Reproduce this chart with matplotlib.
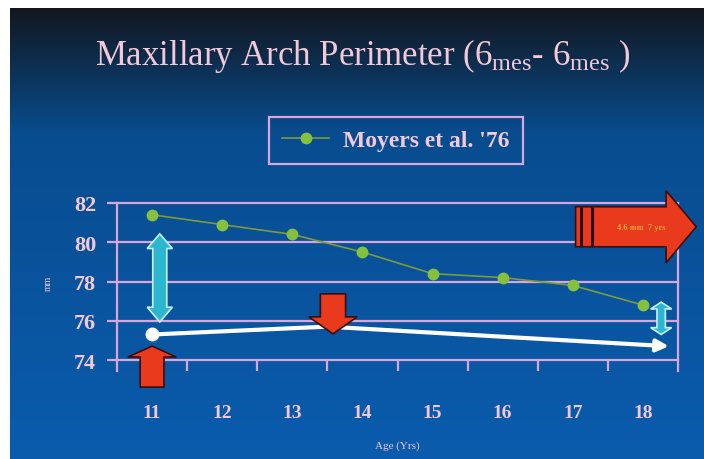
import numpy as np
import matplotlib
matplotlib.use("Agg")
import matplotlib.pyplot as plt
from matplotlib.patches import FancyArrow, Polygon
from matplotlib.lines import Line2D

plt.rcParams["font.family"] = ["Liberation Serif", "DejaVu Serif"]
plt.rcParams["mathtext.fontset"] = "custom"
plt.rcParams["mathtext.rm"] = "Liberation Serif"
plt.rcParams["mathtext.it"] = "Liberation Serif:italic"
plt.rcParams["mathtext.bf"] = "Liberation Serif:bold"

# ---- data -------------------------------------------------------------
ages = [11, 12, 13, 14, 15, 16, 17, 18]
moyers_76 = [81.4, 80.9, 80.4, 79.5, 78.4, 78.2, 77.8, 76.8]
y_ticks = [74, 76, 78, 80, 82]

# observed trend drawn as a white arrow
trend_x = [11, 13.5, 18.37]
trend_y = [75.3, 75.7, 74.7]

TXT = "#f3c9da"
GRID = "#d6a6dc"

fig = plt.figure(figsize=(7.04, 4.60), dpi=100)
fig.patch.set_facecolor("white")
W, H = 704, 460

# ---- slide background gradient ---------------------------------------
bg = fig.add_axes([10 / W, 0, 694 / W, 451 / H], zorder=-5)
rows = np.linspace(0, 1, 400)
top = np.array([0.07, 0.09, 0.12])
mid = np.array([0.03, 0.30, 0.56])
bot = np.array([0.04, 0.36, 0.68])
t1 = np.clip(rows / 0.28, 0, 1)[:, None]
t2 = np.clip((rows - 0.28) / 0.72, 0, 1)[:, None]
grad = np.where(rows[:, None] < 0.28, top + (mid - top) * t1, mid + (bot - mid) * t2)
bg.imshow(grad[:, None, :].repeat(2, axis=1), aspect="auto", extent=[0, 1, 0, 1],
          origin="upper")
bg.set_axis_off()

# ---- title ------------------------------------------------------------
fig.text(363 / W, 1 - 56 / H,
         r"Maxillary Arch Perimeter (6$_{\mathrm{mes}}$- 6$_{\mathrm{mes}}$ )",
         ha="center", va="center", fontsize=25, color=TXT)

# ---- main axes --------------------------------------------------------
ax = fig.add_axes([117 / W, (H - 372) / H, (678 - 117) / W, (372 - 204) / H])
ax.set_facecolor("none")
ax.set_xlim(10.5, 18.5)
ax.set_ylim(73.44, 82)

for s in ("top", "bottom"):
    ax.spines[s].set_visible(False)
for s in ("left", "right"):
    ax.spines[s].set_color(GRID)
    ax.spines[s].set_linewidth(1.6)

ax.set_yticks(y_ticks)
ax.set_yticklabels([str(v) for v in y_ticks])
ax.yaxis.grid(True, color=GRID, lw=1.6)
for gl in ax.get_ygridlines():
    gl.set_clip_on(False)
ax.set_axisbelow(True)
ax.tick_params(axis="y", direction="out", length=7, width=1.6, color=GRID,
               labelcolor=TXT, labelsize=16, pad=8)
for lab in ax.get_yticklabels():
    lab.set_fontweight("bold")

ax.set_xticks(ages)
ax.set_xticklabels([str(a) for a in ages])
ax.set_xticks([a + 0.5 for a in ages[:-1]], minor=True)
ax.tick_params(axis="x", which="major", length=0, labelcolor=TXT, labelsize=14, pad=24)
ax.tick_params(axis="x", which="minor", direction="in", length=8, width=1.6, color=GRID)
for lab in ax.get_xticklabels():
    lab.set_fontweight("bold")

ax.set_xlabel("Age (Yrs)", color=TXT, fontsize=8, labelpad=14)
fig.text(48 / W, 1 - 283 / H, "mm", rotation=90, ha="center", va="center",
         color=TXT, fontsize=7)

# ---- Moyers series ----------------------------------------------------
ax.plot(ages, moyers_76, color="#7f9a3c", lw=1.2, zorder=3,
        marker="o", markersize=7.5, markerfacecolor="#86c13e",
        markeredgecolor="#86c13e", label="Moyers et al. '76")

# ---- white trend arrow -----------------------------------------------
ax.plot(trend_x[:2], trend_y[:2], color="white", lw=3, zorder=4,
        solid_capstyle="round")
ax.plot(trend_x[0], trend_y[0], "o", color="white", markersize=9, zorder=5)
ax.annotate("", xy=(trend_x[2], trend_y[2]), xytext=(trend_x[1], trend_y[1]),
            arrowprops=dict(arrowstyle="-|>", color="white", lw=3,
                            mutation_scale=18, shrinkA=0, shrinkB=0),
            zorder=4)


def double_arrow(x, y0, y1, shaft_w, head_w, head_len, **kw):
    pts = [(x, y1), (x - head_w / 2, y1 - head_len), (x - shaft_w / 2, y1 - head_len),
           (x - shaft_w / 2, y0 + head_len), (x - head_w / 2, y0 + head_len), (x, y0),
           (x + head_w / 2, y0 + head_len), (x + shaft_w / 2, y0 + head_len),
           (x + shaft_w / 2, y1 - head_len), (x + head_w / 2, y1 - head_len)]
    ax.add_patch(Polygon(pts, closed=True, clip_on=False, **kw))


cyan = dict(facecolor="#2db6d0", edgecolor="#c8f0f8", lw=1.2, zorder=6)
double_arrow(11.11, 75.94, 80.43, 0.2, 0.36, 0.75, **cyan)
double_arrow(18.26, 75.3, 76.95, 0.12, 0.3, 0.35, **cyan)

red = dict(facecolor="#ea3a1e", edgecolor="#3a0d0d", lw=1.2, clip_on=False,
           length_includes_head=True, zorder=7)
# up arrow under age 11
ax.add_patch(FancyArrow(11, 72.62, 0, 74.71 - 72.62, width=0.34, head_width=0.69,
                        head_length=0.56, **red))
# down arrow near age 13.6
ax.add_patch(FancyArrow(13.58, 77.37, 0, 75.33 - 77.37, width=0.36, head_width=0.69,
                        head_length=0.87, **red))
# large right arrow
ax.add_patch(FancyArrow(17.04, 80.79, 1.72, 0, width=2.04, head_width=3.67,
                        head_length=0.43, **red))
ax.vlines([17.11, 17.28], 79.8, 81.78, color="#2a0808", lw=2.2, zorder=8)
ax.text(17.97, 80.79, "4.6 mm  7 yrs", color="#f2a23a", fontsize=6, fontweight="bold",
        ha="center", va="center", zorder=9, clip_on=False)

# ---- legend -----------------------------------------------------------
handle = Line2D([], [], color="#7f9a3c", lw=1.2, marker="o", markersize=7.5,
                markerfacecolor="#86c13e", markeredgecolor="#86c13e")
leg = ax.legend([handle], ["Moyers et al. '76"], loc="center",
                bbox_to_anchor=(396 / W, 1 - 141.5 / H), bbox_transform=fig.transFigure,
                frameon=True, fancybox=False,
                borderpad=0.55, handlelength=2.0, handletextpad=0.6,
                prop=dict(family="Liberation Serif", weight="bold", size=17))
frame = leg.get_frame()
frame.set_facecolor("none")
frame.set_edgecolor(GRID)
frame.set_alpha(None)
frame.set_linewidth(1.6)
for t in leg.get_texts():
    t.set_color(TXT)

fig.savefig("out.png", dpi=100)
